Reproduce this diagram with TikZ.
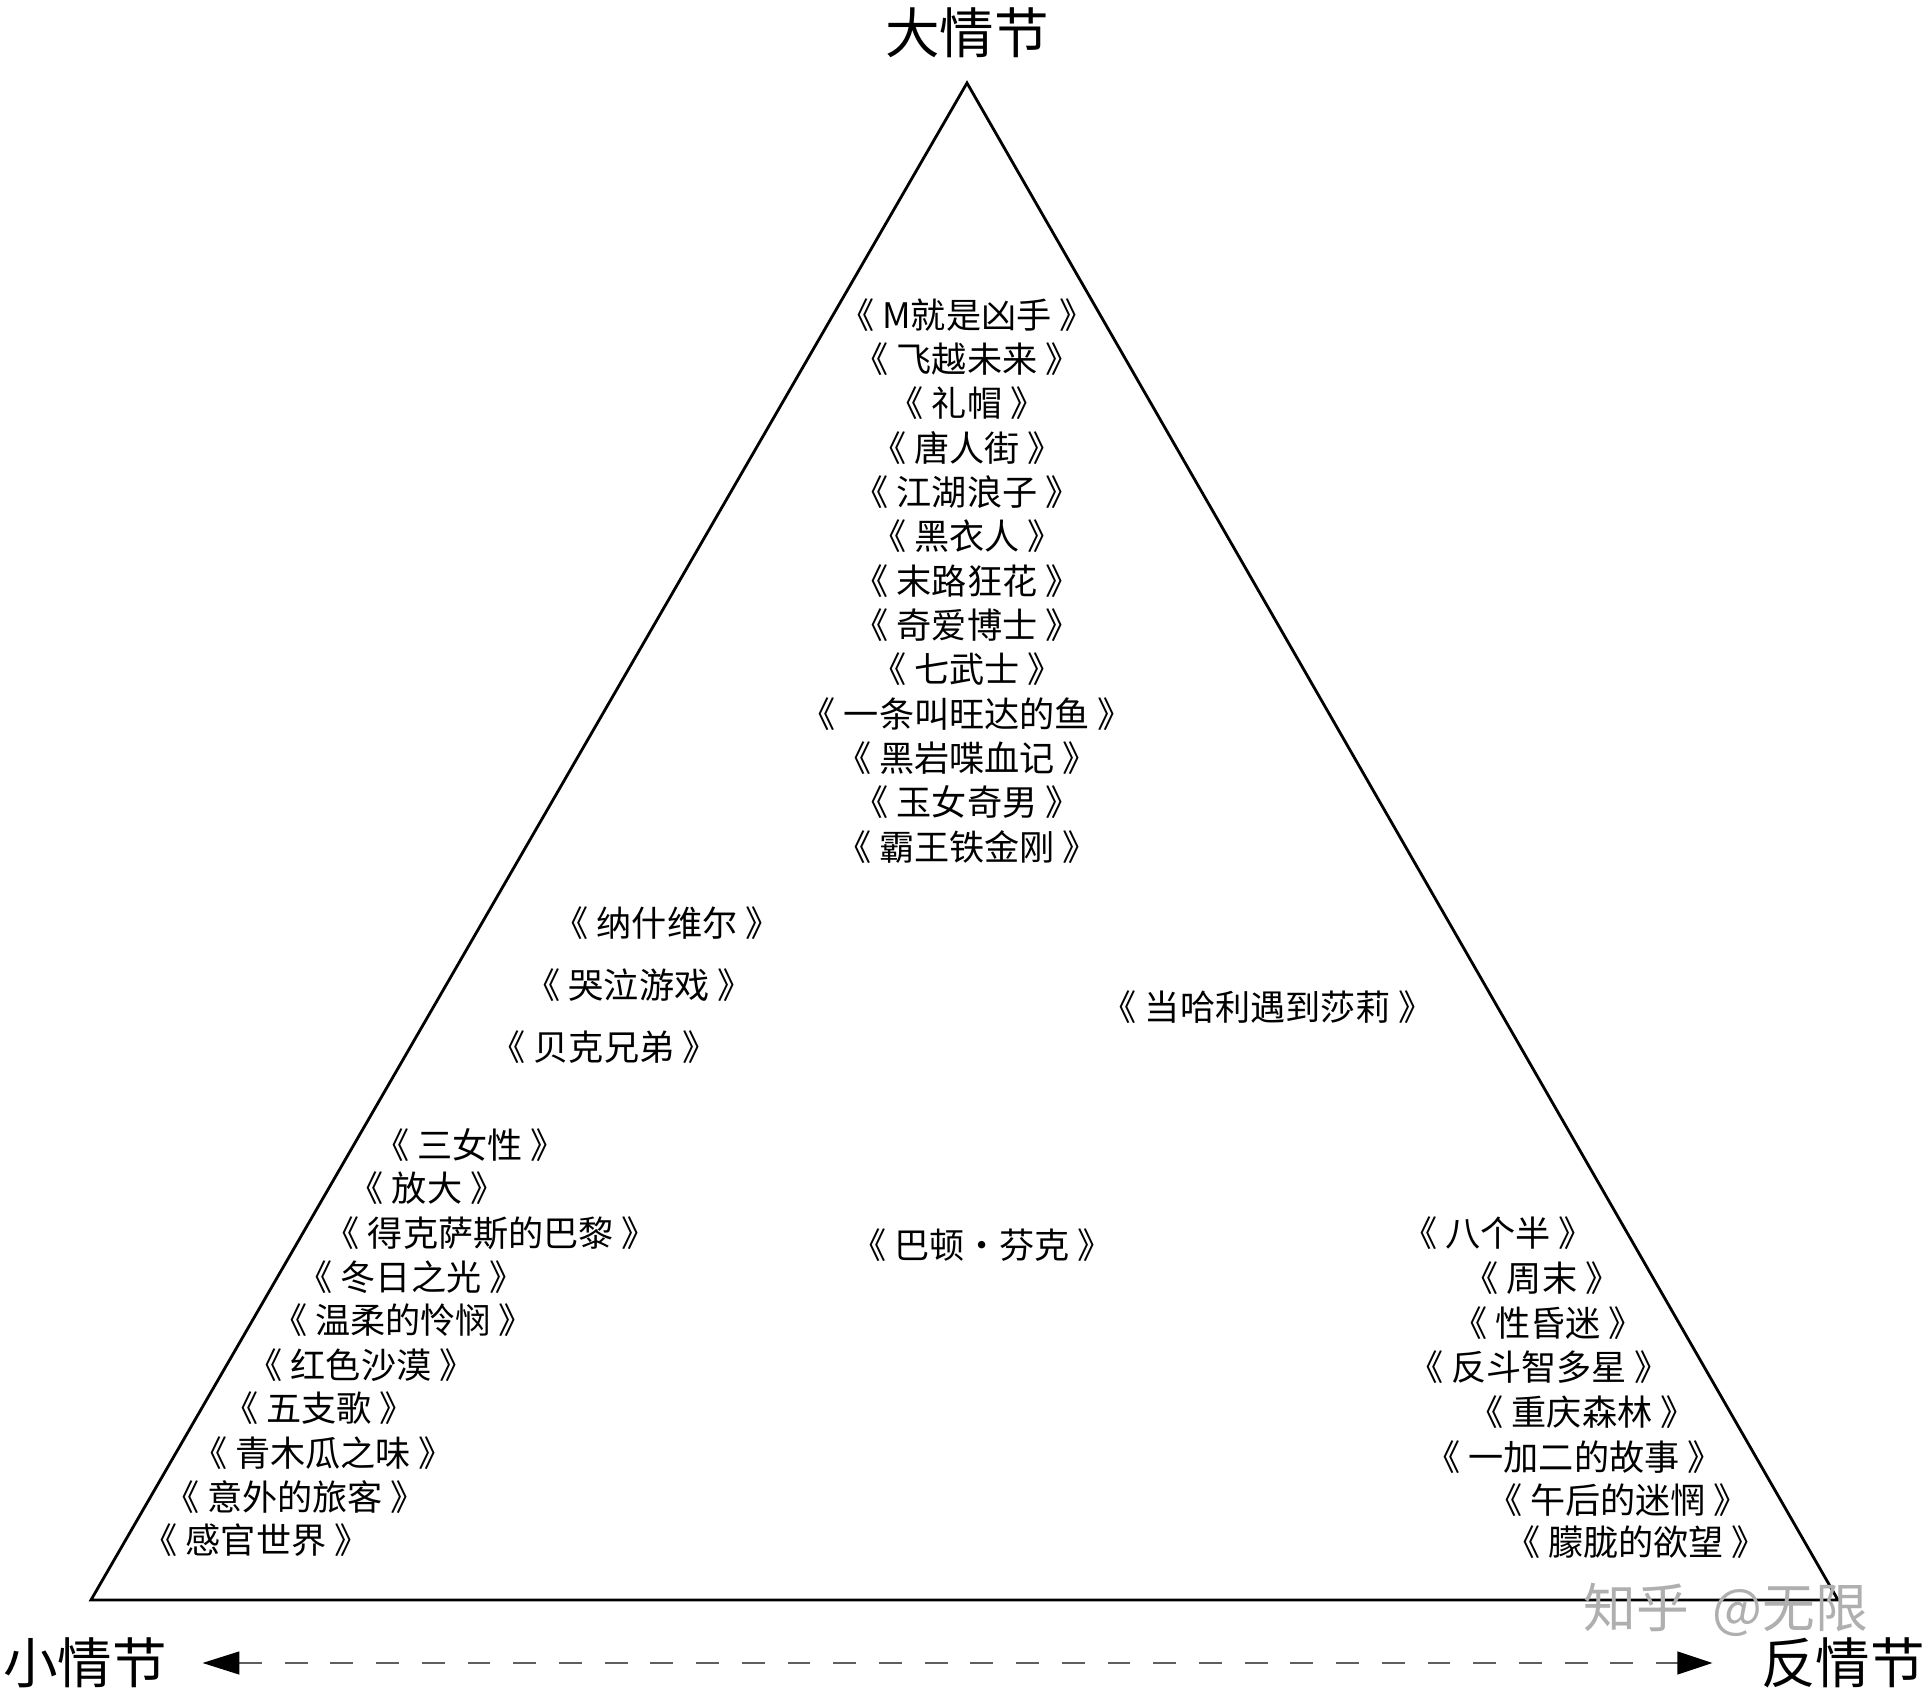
\documentclass[tikz,border=0pt]{standalone}
\usepackage{fontspec}
\setmainfont{Noto Sans CJK SC}
\usetikzlibrary{arrows.meta, positioning}
\definecolor{dashgray}{RGB}{95, 95, 95}
\definecolor{markgray}{RGB}{175, 175, 175}
\tikzset{
  film/.style={font=\fontsize{10}{12}\selectfont, inner sep=0pt},
  pole/.style={font=\fontsize{15.5}{18}\selectfont, inner sep=0pt},
}

\begin{document}
\begin{tikzpicture}[x=0.01cm, y=-0.01cm]
  \useasboundingbox (0, 0) rectangle (1929, 1698);

  % Story triangle
  \coordinate (apex) at (967, 83);
  \coordinate (lcorner) at (91, 1600);
  \coordinate (rcorner) at (1838, 1600);
  \draw[line width=0.8pt] (lcorner) -- (apex) -- (rcorner) -- cycle;

  % Corner labels
  \node[pole] (archplot) at (967, 33) {大情节};
  \node[pole] (miniplot) at (85, 1663) {小情节};
  \node[pole] (antiplot) at (1843, 1663) {反情节};

  \draw[dashgray, line width=0.5pt, dash pattern=on 6.5pt off 6.5pt,
        {Triangle[length=10.5pt, width=6.5pt, color=black]}-{Triangle[length=10pt, width=6.5pt, color=black]},
        shorten <=0.35cm, shorten >=0.48cm] (miniplot.east) -- (antiplot.west);

  % Archplot column
  \foreach \t [count=\i] in {M就是凶手, 飞越未来, 礼帽, 唐人街, 江湖浪子, 黑衣人, 末路狂花,
                             奇爱博士, 七武士, 一条叫旺达的鱼, 黑岩喋血记, 玉女奇男, 霸王铁金刚} {
    \node[film] (arch\i) at (967, {315 + 44.3*(\i-1)}) {《 \t{} 》};
  }

  % Between archplot and miniplot
  \foreach \x/\y/\t [count=\i] in {667/923/纳什维尔, 639/985/哭泣游戏, 604/1047/贝克兄弟} {
    \node[film] (archmini\i) at (\x, \y) {《 \t{} 》};
  }

  % Between archplot and antiplot
  \node[film] (archanti) at (1268, 1007) {《 当哈利遇到莎莉 》};

  % Centre of the triangle
  \node[film] (core) at (982, 1245) {《 巴顿·芬克 》};

  % Miniplot corner
  \foreach \x/\y/\t [count=\i] in {470/1145/三女性, 427/1188/放大, 491/1233/得克萨斯的巴黎,
                                   411/1277/冬日之光, 403/1320/温柔的怜悯, 361/1365/红色沙漠,
                                   319/1408/五支歌, 323/1453/青木瓜之味, 295/1497/意外的旅客,
                                   256/1540/感官世界} {
    \node[film] (mini\i) at (\x, \y) {《 \t{} 》};
  }

  % Antiplot corner
  \foreach \x/\y/\t [count=\i] in {1498/1233/八个半, 1542/1278/周末, 1548/1323/性昏迷,
                                   1539/1367/反斗智多星, 1582/1412/重庆森林, 1574/1457/一加二的故事,
                                   1618/1500/午后的迷惘, 1636/1542/朦胧的欲望} {
    \node[film] (anti\i) at (\x, \y) {《 \t{} 》};
  }

  % Watermark
  \node[font=\fontsize{15}{17}\selectfont, markgray, inner sep=0pt] (watermark) at (1726, 1610) {知乎 \ @无限};
\end{tikzpicture}
\end{document}
